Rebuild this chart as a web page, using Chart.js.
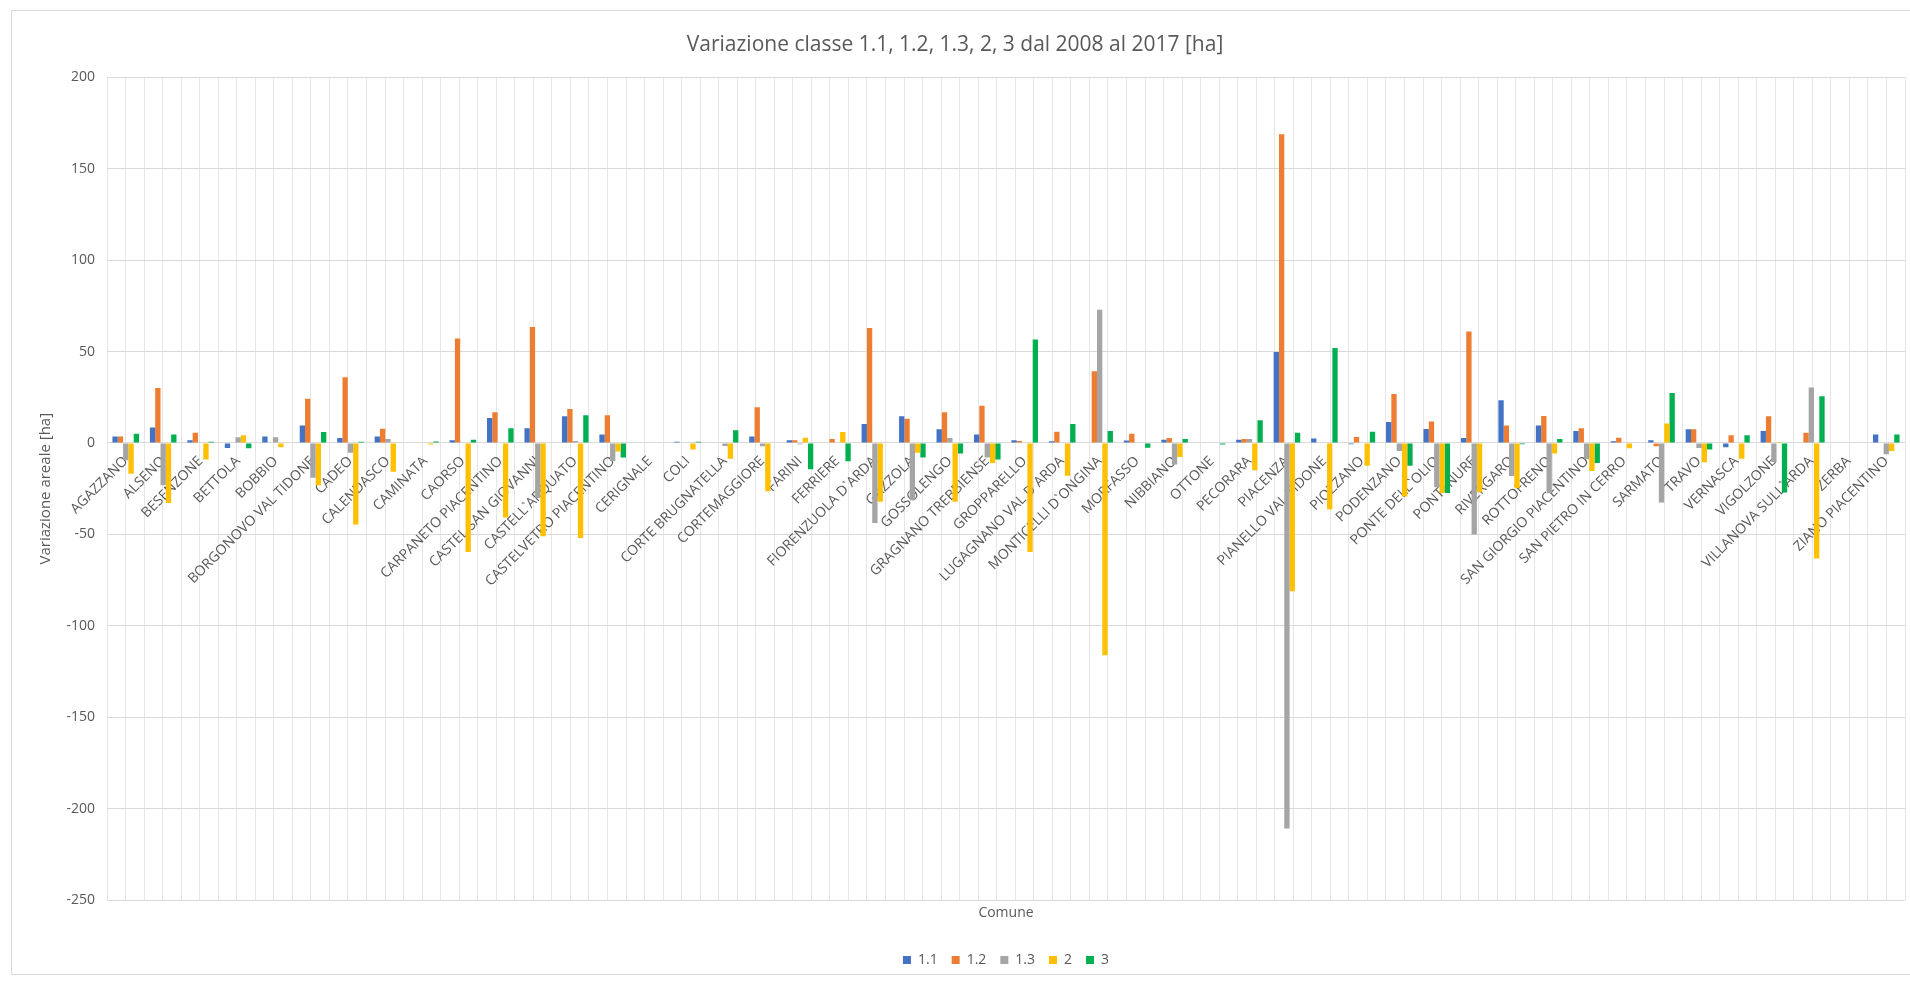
<!DOCTYPE html>
<html>
<head>
<meta charset="utf-8">
<title>Variazione classe 1.1, 1.2, 1.3, 2, 3</title>
<script src="https://cdn.jsdelivr.net/npm/chart.js@4.4.1/dist/chart.umd.min.js"></script>
<style>
  body { margin: 0; background: #fff; overflow: hidden; }
  #frame { position: absolute; left: 11px; top: 10px; width: 1960px; height: 963px; border: 1px solid #d9d9d9; }
  #chart { position: absolute; left: 0; top: 0; }
</style>
</head>
<body>
<div id="frame"></div>
<canvas id="chart" width="1910" height="981"></canvas>
<script>
const comuni = [
  "AGAZZANO", "ALSENO", "BESENZONE", "BETTOLA", "BOBBIO", "BORGONOVO VAL TIDONE",
  "CADEO", "CALENDASCO", "CAMINATA", "CAORSO", "CARPANETO PIACENTINO",
  "CASTEL SAN GIOVANNI", "CASTELL`ARQUATO", "CASTELVETRO PIACENTINO", "CERIGNALE",
  "COLI", "CORTE BRUGNATELLA", "CORTEMAGGIORE", "FARINI", "FERRIERE",
  "FIORENZUOLA D`ARDA", "GAZZOLA", "GOSSOLENGO", "GRAGNANO TREBBIENSE",
  "GROPPARELLO", "LUGAGNANO VAL D`ARDA", "MONTICELLI D`ONGINA", "MORFASSO",
  "NIBBIANO", "OTTONE", "PECORARA", "PIACENZA", "PIANELLO VAL TIDONE", "PIOZZANO",
  "PODENZANO", "PONTE DELL`OLIO", "PONTENURE", "RIVERGARO", "ROTTOFRENO",
  "SAN GIORGIO PIACENTINO", "SAN PIETRO IN CERRO", "SARMATO", "TRAVO", "VERNASCA",
  "VIGOLZONE", "VILLANOVA SULL`ARDA", "ZERBA", "ZIANO PIACENTINO"
];

// variazione areale [ha] per classe
const classe11 = [
  3.6, 8.4, 1.5, -2.7, 3.6, 9.5, 2.7, 3.6, 0, 1.5, 13.7, 8.0,
  14.6, 4.6, 0, 0.7, 0, 3.6, 1.5, 0, 10.4, 14.6, 7.5, 4.7,
  1.5, 0.9, 0, 1.3, 1.8, 0, 1.8, 49.7, 2.4, -0.7, 11.5, 7.7,
  2.7, 23.3, 9.5, 6.6, 0.9, 1.5, 7.5, -2.4, 6.6, 0, 0, 4.6
];
const classe12 = [
  3.6, 30.1, 5.6, 0, 0, 24.2, 35.9, 7.8, 0, 57.1, 16.8, 63.4,
  18.6, 15.1, 0, 0, 0, 19.5, 1.5, 2.2, 62.9, 13.3, 16.8, 20.4,
  1.1, 6.2, 39.2, 5.1, 2.7, 0, 2.2, 168.8, 0, 3.3, 26.8, 11.8,
  61.0, 9.5, 14.8, 8.0, 2.9, -1.8, 7.5, 4.2, 14.6, 5.6, 0, 0
];
const classe13 = [
  -9.5, -23.1, 0, 3.1, 3.1, -19.0, -5.3, 2.2, 0, 0, 0, -30.1,
  1.1, -9.8, 0, 0, -1.6, -1.8, -0.7, 0, -43.7, -31.3, 2.7, -8.0,
  0, 0, 72.9, 0, -11.7, 0, 2.2, -210.8, 0, 0, -4.4, -24.2,
  -50.0, -18.0, -27.5, -8.9, 0, -32.6, -2.7, 0, -10.4, 30.4, 0, -6.2
];
const classe2 = [
  -16.8, -32.8, -9.1, 4.2, -2.4, -23.1, -44.6, -15.7, -0.8, -59.6, -40.8, -51.0,
  -51.9, -4.6, 0, -3.6, -8.6, -26.4, 2.9, 6.0, -32.2, -5.3, -32.2, -10.9,
  -59.6, -17.9, -116.1, 0, -7.7, 0, -14.9, -81.1, -36.2, -12.4, -29.2, -27.3,
  -27.0, -24.8, -5.8, -15.3, -2.9, 10.6, -10.6, -8.6, 0.5, -63.2, 0, -4.4
];
const classe3 = [
  5.1, 4.6, 0.7, -2.9, 0, 6.0, 0.7, 0, 0.8, 1.8, 8.0, 0,
  15.1, -8.0, 0, 0.7, 7.0, 0, -14.4, -10.0, 0, -8.0, -5.8, -9.1,
  56.6, 10.4, 6.6, -2.6, 2.2, -0.9, 12.4, 5.6, 51.9, 6.2, -12.4, -27.3,
  0, -0.7, 2.2, -10.9, 0, 27.3, -3.6, 4.2, -27.1, 25.6, 0, 4.6
];

const serie = ["1.1", "1.2", "1.3", "2", "3"];
const colori = ["#4472C4", "#ED7D31", "#A5A5A5", "#FFC000", "#00B050"];
const valori = [classe11, classe12, classe13, classe2, classe3];

const testo = "#595959";
const font = "'Open Sans', sans-serif";

// la legenda di Excel è centrata sull'area del grafico, non sull'intera tela
const spostaLegenda = {
  id: "spostaLegenda",
  afterLayout(chart) {
    const dx = (chart.chartArea.left + chart.chartArea.right) / 2 - (chart.legend.left + chart.legend.right) / 2;
    chart.legend.left += dx;
    chart.legend.right += dx;
  },
};

new Chart(document.getElementById("chart"), {
  type: "bar",
  data: {
    labels: comuni,
    datasets: serie.map((nome, i) => ({
      label: nome,
      data: valori[i],
      backgroundColor: colori[i],
      borderWidth: 0,
      categoryPercentage: 0.71,
      barPercentage: 1.0,
    })),
  },
  plugins: [spostaLegenda],
  options: {
    responsive: false,
    animation: false,
    layout: { padding: { top: 0, left: 5, right: 5, bottom: 4 } },
    plugins: {
      title: {
        display: true,
        text: "Variazione classe 1.1, 1.2, 1.3, 2, 3 dal 2008 al 2017 [ha]",
        color: testo,
        font: { family: font, size: 21, weight: "normal" },
        padding: { top: 32, bottom: 20 },
      },
      legend: {
        position: "bottom",
        labels: {
          color: testo,
          font: { family: font, size: 14 },
          boxWidth: 8,
          boxHeight: 8,
          padding: 14,
        },
      },
      tooltip: { enabled: false },
    },
    scales: {
      x: {
        type: "category",
        position: { y: 0 },
        grid: { display: false },
        border: { display: false },
        ticks: {
          autoSkip: false,
          maxRotation: 45,
          minRotation: 45,
          padding: 2,
          color: testo,
          font: { family: font, size: 14 },
        },
      },
      xg: {
        type: "linear",
        position: "bottom",
        min: 0,
        max: 96,
        grid: { color: "#e6e6e6", drawTicks: false },
        border: { display: false },
        ticks: { display: false, stepSize: 1, maxTicksLimit: 200 },
        title: {
          display: true,
          text: "Comune",
          color: testo,
          font: { family: font, size: 14 },
          padding: { top: 4, bottom: 18 },
        },
      },
      y: {
        min: -250,
        max: 200,
        grid: { color: "#d9d9d9", drawTicks: false },
        border: { display: false },
        ticks: {
          stepSize: 50,
          padding: 12,
          color: testo,
          font: { family: font, size: 14 },
        },
        title: {
          display: true,
          text: "Variazione areale [ha]",
          color: testo,
          font: { family: font, size: 15 },
          padding: { top: 32, bottom: 0 },
        },
        afterFit(scale) {
          scale.width = 102;
        },
      },
    },
  },
});
</script>
</body>
</html>
